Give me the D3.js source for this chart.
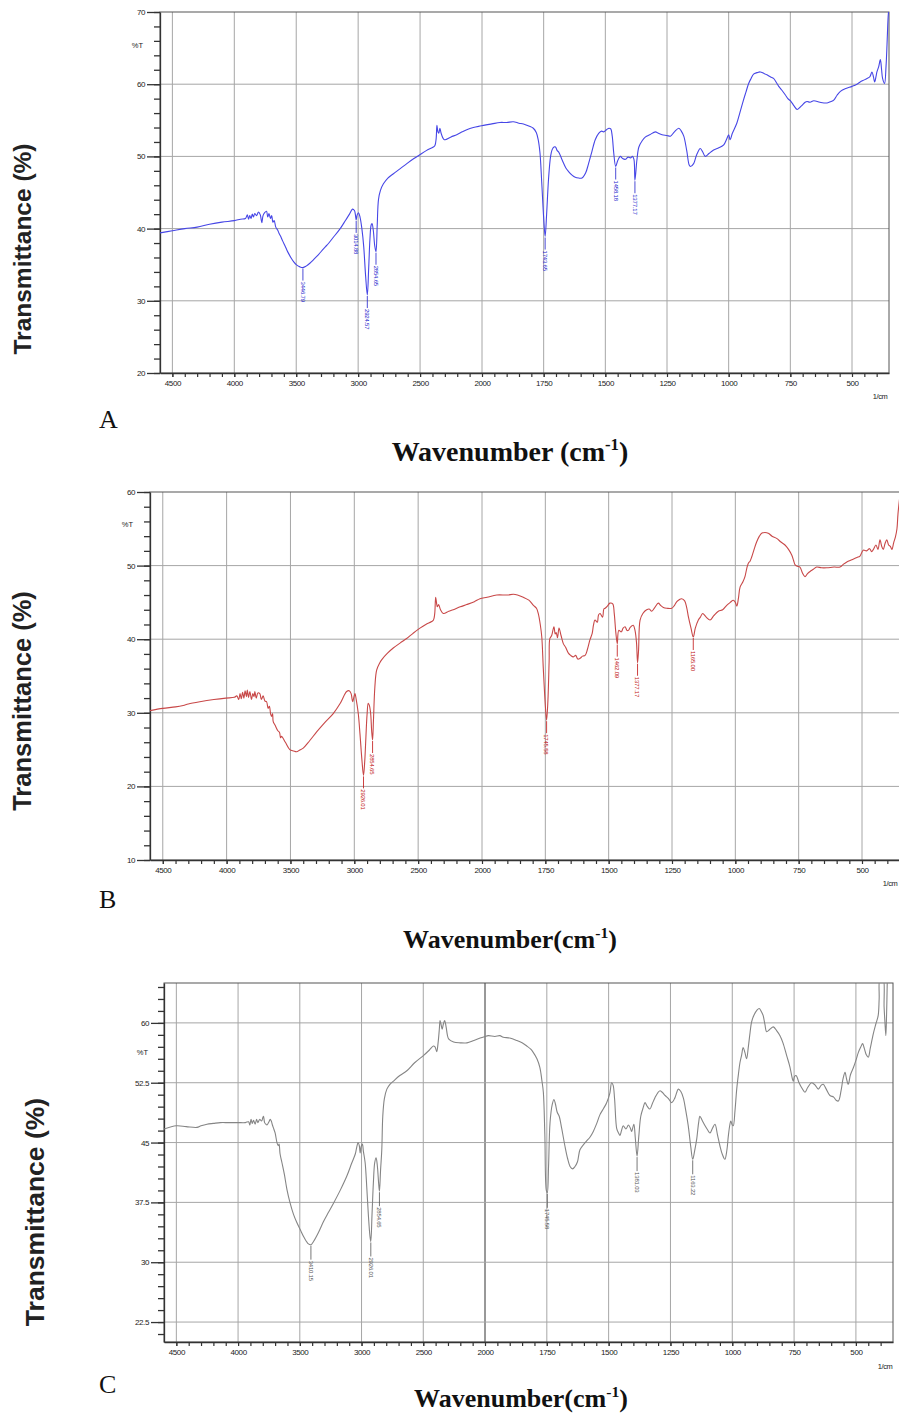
<!DOCTYPE html>
<html><head><meta charset="utf-8">
<script src="https://cdn.jsdelivr.net/npm/d3@7"></script>
<style>body{margin:0;background:#fff}svg{display:block}</style>
</head><body>
<script>
// ---------- DATA ----------
const xTickLabels=[4500,4000,3500,3000,2500,2000,1750,1500,1250,1000,750,500];
const yTicksA=[20,30,40,50,60,70];
const yTicksB=[10,20,30,40,50,60];
const yTicksC=[22.5,30,37.5,45,52.5,60];

const specA=[[4600,39.4],[4500,39.7],[4400,40.0],[4300,40.2],[4200,40.6],[4100,40.9],[4000,41.1],[3950,41.3],[3910,41.4],[3895,41.9],[3885,41.3],[3875,41.8],[3865,41.4],[3855,42.0],[3845,41.6],[3835,42.1],[3820,41.8],[3805,42.3],[3790,41.9],[3778,40.8],[3768,41.8],[3755,42.2],[3740,42.4],[3730,41.6],[3720,42.1],[3708,41.4],[3698,41.8],[3688,40.9],[3678,41.1],[3665,40.2],[3650,39.8],[3640,39.4],[3625,38.9],[3610,38.3],[3590,37.6],[3575,37.0],[3560,36.5],[3540,35.9],[3520,35.4],[3500,35.0],[3470,34.7],[3446,34.6],[3420,34.8],[3390,35.2],[3360,35.7],[3320,36.4],[3280,37.2],[3252,37.7],[3200,38.8],[3145,40.0],[3100,41.2],[3070,42.0],[3046,42.7],[3030,42.5],[3022,41.9],[3016,41.2],[3008,41.9],[2998,42.2],[2985,41.6],[2970,40.0],[2955,37.5],[2940,33.5],[2926,30.8],[2915,34.5],[2905,38.5],[2895,40.5],[2888,40.7],[2878,39.8],[2866,37.6],[2856,36.8],[2846,40.5],[2836,44.0],[2820,45.3],[2796,46.2],[2760,47.0],[2715,47.6],[2660,48.3],[2607,49.0],[2550,49.7],[2505,50.2],[2450,50.8],[2393,51.3],[2380,51.5],[2370,52.5],[2364,54.3],[2356,53.4],[2349,53.2],[2340,53.9],[2330,53.2],[2310,52.4],[2298,52.3],[2250,52.7],[2204,53.0],[2160,53.4],[2123,53.7],[2070,54.0],[2016,54.2],[1960,54.5],[1927,54.7],[1900,54.7],[1873,54.8],[1850,54.6],[1832,54.5],[1810,54.2],[1792,53.9],[1780,53.3],[1772,52.3],[1765,50.5],[1758,46.5],[1750,41.5],[1744,38.9],[1738,42.0],[1730,47.0],[1722,50.0],[1716,50.9],[1708,51.3],[1702,51.3],[1695,50.8],[1689,50.6],[1675,49.5],[1660,48.4],[1649,47.9],[1635,47.4],[1622,47.1],[1608,47.0],[1595,47.0],[1580,47.7],[1568,49.0],[1555,50.6],[1541,52.3],[1527,53.2],[1515,53.5],[1507,53.4],[1495,53.7],[1485,53.9],[1478,53.8],[1472,52.8],[1466,50.5],[1458,48.6],[1450,49.4],[1439,50.0],[1430,49.7],[1418,49.6],[1408,49.9],[1398,49.8],[1390,50.0],[1384,49.6],[1380,46.7],[1372,49.5],[1364,51.3],[1350,52.2],[1337,52.7],[1320,53.0],[1297,53.4],[1285,53.2],[1270,53.0],[1250,52.9],[1236,52.8],[1220,53.4],[1202,53.9],[1192,53.5],[1182,52.8],[1170,50.8],[1160,48.8],[1155,48.6],[1142,49.0],[1130,50.2],[1115,51.1],[1105,50.6],[1095,50.0],[1080,50.4],[1061,50.9],[1040,51.2],[1020,51.6],[1008,52.4],[1000,53.0],[994,52.3],[985,53.2],[967,54.6],[955,56.0],[940,57.8],[930,58.9],[919,60.1],[909,60.8],[899,61.4],[885,61.6],[872,61.7],[858,61.5],[845,61.3],[830,61.0],[818,60.8],[806,60.2],[797,59.7],[785,59.2],[770,58.5],[760,58.0],[747,57.6],[735,57.0],[722,56.5],[705,57.0],[690,57.5],[682,57.6],[670,57.5],[655,57.7],[630,57.5],[601,57.4],[585,57.6],[574,57.8],[560,58.5],[547,59.0],[525,59.4],[500,59.7],[480,60.0],[467,60.3],[450,60.6],[439,60.8],[428,61.0],[419,61.7],[413,61.0],[408,60.3],[403,61.0],[399,61.7],[392,62.4],[385,63.4],[380,62.0],[376,60.8],[368,60.1],[362,62.5],[358,65.5],[354,69.0],[352,70.0]];
const peaksA=[[3446,34.6,"3446.79"],[3016,41.2,"3014.88"],[2926,30.8,"2924.57"],[2856,36.8,"2854.65"],[1744,38.9,"1743.65"],[1458,48.6,"1458.18"],[1380,46.7,"1377.17"]];

const specB=[[4600,30.3],[4500,30.6],[4400,30.8],[4340,31.0],[4300,31.2],[4210,31.5],[4100,31.8],[4006,32.0],[3940,32.1],[3920,32.3],[3905,31.8],[3895,32.6],[3885,31.9],[3875,32.8],[3865,32.0],[3855,33.0],[3845,32.2],[3838,33.1],[3828,32.1],[3818,32.9],[3805,31.8],[3795,32.6],[3785,32.2],[3779,32.9],[3768,32.0],[3755,32.7],[3740,32.6],[3728,31.8],[3714,32.3],[3700,31.6],[3687,31.5],[3675,30.6],[3665,30.9],[3655,29.8],[3648,29.5],[3640,29.9],[3635,28.8],[3620,28.3],[3600,27.6],[3585,27.3],[3578,26.6],[3570,26.8],[3540,26.0],[3505,25.0],[3475,24.8],[3452,24.7],[3430,24.9],[3400,25.2],[3350,26.2],[3295,27.4],[3230,28.7],[3165,29.9],[3110,31.3],[3060,32.9],[3040,33.0],[3025,32.6],[3013,31.5],[3005,32.0],[2995,32.6],[2985,31.8],[2969,29.9],[2955,27.0],[2940,23.5],[2928,21.5],[2918,23.5],[2911,26.0],[2900,29.8],[2891,31.3],[2882,31.0],[2872,29.9],[2864,27.5],[2857,26.3],[2850,29.0],[2839,33.5],[2825,35.8],[2800,36.8],[2786,37.2],[2740,38.1],[2695,38.8],[2640,39.5],[2590,40.1],[2540,40.8],[2486,41.5],[2440,42.0],[2394,42.4],[2380,42.6],[2370,43.5],[2363,45.7],[2355,44.8],[2350,44.4],[2340,44.7],[2325,44.0],[2303,43.5],[2260,43.8],[2225,44.0],[2170,44.4],[2120,44.7],[2060,45.1],[2016,45.5],[1980,45.7],[1942,46.0],[1900,46.0],[1876,46.1],[1860,46.0],[1837,45.7],[1815,45.3],[1797,44.6],[1785,44.2],[1778,43.5],[1770,42.0],[1764,40.3],[1758,36.0],[1750,31.0],[1745,29.0],[1740,31.5],[1735,37.0],[1732,40.1],[1725,40.5],[1716,41.7],[1711,40.7],[1707,40.9],[1702,40.2],[1696,41.5],[1688,40.5],[1679,39.4],[1670,38.9],[1659,38.1],[1650,37.8],[1640,37.6],[1630,37.8],[1622,37.3],[1613,37.4],[1603,37.7],[1593,37.8],[1584,38.6],[1574,39.9],[1565,40.8],[1560,41.9],[1554,42.6],[1545,42.3],[1540,43.3],[1534,43.5],[1524,43.0],[1519,44.1],[1514,44.2],[1505,44.5],[1495,44.9],[1484,44.8],[1478,43.5],[1472,41.0],[1466,39.4],[1460,41.2],[1450,41.0],[1443,41.5],[1435,41.7],[1428,41.2],[1422,41.2],[1415,41.6],[1403,41.9],[1396,41.2],[1390,39.5],[1386,36.8],[1382,38.5],[1376,42.6],[1365,43.5],[1350,44.0],[1340,44.1],[1330,43.8],[1318,44.3],[1304,44.9],[1295,44.6],[1284,44.3],[1270,44.2],[1251,44.2],[1240,44.6],[1231,45.1],[1220,45.4],[1212,45.5],[1200,45.2],[1192,44.3],[1185,43.0],[1175,41.5],[1166,40.3],[1158,41.5],[1146,42.6],[1138,43.0],[1129,43.5],[1115,43.0],[1100,42.6],[1085,43.2],[1067,43.8],[1050,44.0],[1034,44.6],[1020,45.0],[1008,45.3],[1000,45.0],[994,44.5],[988,45.5],[981,47.1],[970,47.8],[962,48.5],[955,49.6],[949,50.3],[942,50.6],[935,51.2],[925,52.3],[916,53.2],[905,54.0],[896,54.4],[883,54.5],[870,54.4],[855,54.0],[837,53.7],[820,53.2],[804,52.8],[790,52.2],[777,51.4],[770,50.7],[764,50.1],[755,49.9],[745,49.8],[735,49.0],[725,48.5],[715,48.9],[705,49.2],[692,49.5],[679,49.8],[660,49.7],[639,49.7],[610,49.8],[587,49.8],[573,50.2],[560,50.5],[540,50.8],[520,51.1],[508,51.3],[495,52.1],[482,52.0],[470,52.3],[462,51.9],[455,52.2],[445,52.8],[437,52.2],[429,53.5],[422,52.6],[416,52.2],[409,53.0],[402,53.5],[395,52.8],[388,52.6],[382,52.2],[375,53.1],[368,53.9],[362,55.0],[358,57.0],[352,59.0]];
const peaksB=[[2928,21.5,"2926.01"],[2857,26.3,"2854.65"],[1745,29.0,"1745.58"],[1466,39.4,"1462.09"],[1386,36.8,"1377.17"],[1166,40.3,"1165.00"]];

const specC=[[4600,46.7],[4500,47.1],[4420,47.0],[4333,46.9],[4300,47.1],[4252,47.3],[4200,47.4],[4144,47.5],[4080,47.5],[4001,47.5],[3940,47.5],[3915,47.6],[3905,47.2],[3895,47.9],[3885,47.4],[3875,47.8],[3862,47.3],[3850,47.9],[3840,47.5],[3825,47.9],[3810,47.7],[3800,48.1],[3794,48.3],[3785,47.5],[3775,47.3],[3766,47.2],[3750,47.6],[3740,47.9],[3731,47.7],[3722,47.2],[3713,46.8],[3700,46.2],[3685,45.0],[3675,44.6],[3668,44.8],[3660,43.6],[3645,42.5],[3625,41.0],[3604,39.1],[3580,37.5],[3551,36.0],[3525,35.0],[3497,34.1],[3465,33.1],[3430,32.3],[3410,32.2],[3389,32.6],[3350,33.7],[3308,35.1],[3270,36.2],[3227,37.4],[3170,39.1],[3119,40.8],[3080,42.4],[3050,43.6],[3038,44.5],[3028,45.0],[3018,44.6],[3011,43.7],[3003,44.5],[2993,44.8],[2985,43.9],[2971,42.5],[2958,39.5],[2945,36.0],[2932,33.3],[2925,32.6],[2915,36.0],[2904,40.0],[2893,42.5],[2882,43.1],[2872,42.1],[2862,40.0],[2855,38.9],[2846,41.5],[2836,44.1],[2828,48.3],[2815,50.5],[2795,51.7],[2770,52.3],[2742,52.7],[2690,53.4],[2633,54.0],[2570,55.0],[2499,55.9],[2450,56.6],[2418,57.1],[2405,57.0],[2391,56.4],[2380,57.5],[2370,59.2],[2364,60.3],[2356,59.8],[2347,59.2],[2338,59.8],[2327,60.3],[2315,59.5],[2305,58.5],[2295,58.0],[2254,57.6],[2200,57.5],[2146,57.5],[2090,57.8],[2039,58.1],[2000,58.3],[1987,58.4],[1960,58.3],[1940,58.4],[1926,58.2],[1900,58.1],[1872,57.8],[1850,57.5],[1831,57.1],[1815,56.7],[1805,56.3],[1790,55.5],[1778,54.4],[1770,52.8],[1764,51.3],[1758,46.0],[1752,39.0],[1748,38.7],[1743,42.0],[1737,47.5],[1728,49.8],[1721,50.4],[1715,49.8],[1708,48.8],[1700,48.3],[1690,46.8],[1677,44.6],[1666,43.0],[1656,42.0],[1646,41.7],[1636,42.0],[1626,42.6],[1616,44.1],[1600,44.8],[1589,45.2],[1575,45.7],[1562,46.4],[1548,47.4],[1535,48.5],[1520,49.3],[1508,50.0],[1495,51.2],[1488,52.5],[1482,52.2],[1476,50.5],[1467,46.7],[1460,46.2],[1454,45.9],[1448,46.5],[1441,47.1],[1430,46.7],[1420,47.2],[1412,46.8],[1407,46.4],[1398,47.3],[1392,45.5],[1385,43.3],[1378,45.8],[1370,48.3],[1360,49.4],[1353,50.0],[1343,49.5],[1333,49.2],[1323,49.9],[1313,50.6],[1300,51.3],[1292,51.5],[1280,51.2],[1272,50.9],[1258,50.5],[1245,50.0],[1232,50.6],[1218,51.7],[1208,51.4],[1198,50.6],[1188,49.0],[1178,47.1],[1168,44.5],[1160,42.9],[1152,44.0],[1144,45.4],[1136,47.5],[1131,48.3],[1122,47.8],[1110,47.1],[1100,46.6],[1090,46.2],[1080,46.8],[1070,47.3],[1060,46.0],[1050,44.6],[1040,43.5],[1030,42.9],[1022,44.0],[1016,45.8],[1010,47.2],[1006,47.7],[1000,47.2],[996,47.1],[989,49.0],[982,51.7],[975,53.6],[969,55.0],[962,56.0],[956,56.9],[949,56.3],[942,55.5],[935,57.0],[928,58.8],[922,60.1],[912,61.0],[900,61.6],[891,61.8],[882,61.4],[875,60.9],[868,59.8],[861,58.9],[848,59.2],[834,59.5],[820,59.0],[807,58.4],[795,57.5],[780,55.9],[767,54.5],[757,53.0],[753,52.7],[748,53.3],[742,53.4],[730,52.5],[718,51.8],[706,51.3],[695,51.9],[679,52.5],[665,52.2],[652,51.7],[640,52.2],[632,52.3],[620,51.7],[605,50.9],[590,50.7],[580,50.3],[571,50.2],[560,51.5],[552,53.0],[544,53.8],[538,53.0],[531,52.3],[522,53.5],[510,54.4],[500,55.3],[490,56.3],[480,57.0],[473,57.4],[466,56.8],[458,56.0],[450,55.7],[442,56.8],[430,58.6],[420,59.8],[410,60.9],[406,63.0],[403,65.5],[395,65.5],[389,65.5],[386,62.0],[383,60.3],[379,58.4],[376,61.0],[373,65.5]];
const peaksC=[[3410,32.2,"3410.15"],[2925,32.6,"2926.01"],[2855,38.9,"2854.65"],[1748,38.7,"1745.58"],[1385,43.3,"1381.03"],[1160,42.9,"1163.22"]];

// ---------- LAYOUT ----------
const svg=d3.select("body").append("svg").attr("width",899).attr("height",1416)
  .style("font-family","'Liberation Sans', Arial, sans-serif");

const panels=[
 {id:"A",spec:specA,peaks:peaksA,yticks:yTicksA,ydom:[20,70],ystep:2,x0:160,xb:482,x1:889,y0:12,y1:373,
  color:"#4646e6",lab:"#2020cc",pctY:48,pctX:143,cmX:880,cmY:399,
  letterY:428,titleX:510,titleY:461,title:"Wavenumber (cm",titleSize:28,transY:249,transX:22,transSize:24.5,lineLen:12},
 {id:"B",spec:specB,peaks:peaksB,yticks:yTicksB,ydom:[10,60],ystep:2,x0:150,xb:482,x1:900,y0:492,y1:860,
  color:"#c84848",lab:"#c01010",pctY:527,pctX:133,cmX:890,cmY:886,
  letterY:908,titleX:510,titleY:948,title:"Wavenumber(cm",titleSize:26,transY:701,transX:22,transSize:25.5,lineLen:12},
 {id:"C",spec:specC,peaks:peaksC,yticks:yTicksC,ydom:[20,65],ystep:1.5,x0:164,xb:485,x1:893,y0:983,y1:1342,
  color:"#858585",lab:"#555",pctY:1055,pctX:148,cmX:885,cmY:1369,darkBreak:true,
  letterY:1393,titleX:521,titleY:1407,title:"Wavenumber(cm",titleSize:26,transY:1212,transX:35,transSize:26.5,lineLen:14}
];

panels.forEach(cfg=>{
 const x=d3.scaleLinear().domain([4600,2000,350]).range([cfg.x0,cfg.xb,cfg.x1]);
 const y=d3.scaleLinear().domain(cfg.ydom).range([cfg.y1,cfg.y0]);
 const g=svg.append("g");
 g.append("clipPath").attr("id","clip"+cfg.id).append("rect")
   .attr("x",cfg.x0).attr("y",cfg.y0).attr("width",cfg.x1-cfg.x0).attr("height",cfg.y1-cfg.y0);

 // grid
 g.append("g").selectAll("line").data(xTickLabels).join("line")
   .attr("x1",d=>x(d)).attr("x2",d=>x(d)).attr("y1",cfg.y0).attr("y2",cfg.y1)
   .attr("stroke",d=>(cfg.darkBreak&&d===2000)?"#333":"#a6a6a6").attr("stroke-width",1);
 g.append("g").selectAll("line").data(cfg.yticks.filter(t=>t>cfg.ydom[0]&&t<cfg.ydom[1])).join("line")
   .attr("x1",cfg.x0).attr("x2",cfg.x1).attr("y1",d=>y(d)).attr("y2",d=>y(d))
   .attr("stroke","#a6a6a6").attr("stroke-width",1);
 // frame
 g.append("rect").attr("x",cfg.x0).attr("y",cfg.y0).attr("width",cfg.x1-cfg.x0).attr("height",cfg.y1-cfg.y0)
   .attr("fill","none").attr("stroke","#555").attr("stroke-width",1);

 // left axis minor + major
 const minorY=d3.range(cfg.ydom[0]+((cfg.id==="C")?1:0),cfg.ydom[1]+0.001,cfg.ystep);
 const la=g.append("g").attr("transform",`translate(${cfg.x0},0)`)
   .call(d3.axisLeft(y).tickValues(minorY).tickSize(6).tickSizeOuter(0).tickFormat(""));
 la.select(".domain").attr("stroke","#333").attr("stroke-width",1.3);
 la.selectAll(".tick line").attr("stroke","#333").attr("stroke-width",1.3);
 const lm=g.append("g").attr("transform",`translate(${cfg.x0},0)`)
   .call(d3.axisLeft(y).tickValues(cfg.yticks).tickSize(13).tickSizeOuter(0).tickPadding(2).tickFormat(d=>d));
 lm.select(".domain").remove();
 lm.selectAll(".tick line").attr("stroke","#333").attr("stroke-width",1.3);
 lm.selectAll("text").attr("font-size",8).attr("fill","#222").attr("font-family","'Liberation Sans', Arial, sans-serif").attr("letter-spacing",-0.4);

 // bottom axis minor + labels
 const minorX=d3.range(4500,2000,-100).concat(d3.range(2000,399,-50));
 const ba=g.append("g").attr("transform",`translate(0,${cfg.y1})`)
   .call(d3.axisBottom(x).tickValues(minorX).tickSize(4).tickSizeOuter(0).tickFormat(""));
 ba.select(".domain").attr("stroke","#333").attr("stroke-width",1.3);
 ba.selectAll(".tick line").attr("stroke","#333").attr("stroke-width",1.2);
 const bm=g.append("g").attr("transform",`translate(0,${cfg.y1})`)
   .call(d3.axisBottom(x).tickValues(xTickLabels).tickSize(4).tickSizeOuter(0).tickPadding(3).tickFormat(d=>d));
 bm.select(".domain").remove();
 bm.selectAll(".tick line").attr("stroke","#333");
 bm.selectAll("text").attr("font-size",8).attr("fill","#222").attr("font-family","'Liberation Sans', Arial, sans-serif").attr("letter-spacing",-0.4);

 // %T and 1/cm
 g.append("text").attr("x",cfg.pctX).attr("y",cfg.pctY).attr("text-anchor","end").attr("font-size",7.5).attr("fill","#222").text("%T");
 g.append("text").attr("x",cfg.cmX).attr("y",cfg.cmY).attr("text-anchor","middle").attr("font-size",7.5).attr("fill","#222").attr("letter-spacing",-0.4).text("1/cm");

 // spectrum
 const line=d3.line().x(d=>x(d[0])).y(d=>y(d[1])).curve(d3.curveCatmullRom.alpha(0.5));
 g.append("path").datum(cfg.spec).attr("clip-path",`url(#clip${cfg.id})`)
   .attr("d",line).attr("fill","none").attr("stroke",cfg.color).attr("stroke-width",1.1);

 // peak labels
 const pk=g.append("g").selectAll("g").data(cfg.peaks).join("g");
 pk.append("line").attr("x1",d=>x(d[0])).attr("x2",d=>x(d[0]))
   .attr("y1",d=>y(d[1])+1).attr("y2",d=>y(d[1])+1+cfg.lineLen)
   .attr("stroke",cfg.lab).attr("stroke-width",0.8);
 pk.append("text").attr("transform",d=>`translate(${x(d[0])},${y(d[1])+cfg.lineLen+2}) rotate(90)`)
   .attr("dy","0.35em").attr("font-size",6).attr("fill",cfg.lab).attr("letter-spacing",-0.2).text(d=>d[2]);

 // panel letter
 svg.append("text").attr("x",99).attr("y",cfg.letterY).attr("font-family","'Liberation Serif', 'Times New Roman', serif")
   .attr("font-size",26).attr("fill","#111").text(cfg.id);
 // x title
 const t=svg.append("text").attr("x",cfg.titleX).attr("y",cfg.titleY).attr("text-anchor","middle")
   .attr("font-family","'Liberation Serif', 'Times New Roman', serif").attr("font-weight","bold").attr("font-size",cfg.titleSize).attr("fill","#111");
 t.append("tspan").text(cfg.title);
 t.append("tspan").attr("font-size",cfg.titleSize*0.6).attr("dy",-cfg.titleSize*0.4).text("-1");
 t.append("tspan").attr("dy",cfg.titleSize*0.4).text(")");
 // y title
 svg.append("text").attr("transform",`translate(${cfg.transX},${cfg.transY}) rotate(-90)`).attr("text-anchor","middle")
   .attr("dy","0.35em").attr("font-weight","bold").attr("font-size",cfg.transSize).attr("fill","#222").text("Transmittance (%)");
});
</script>
</body></html>
